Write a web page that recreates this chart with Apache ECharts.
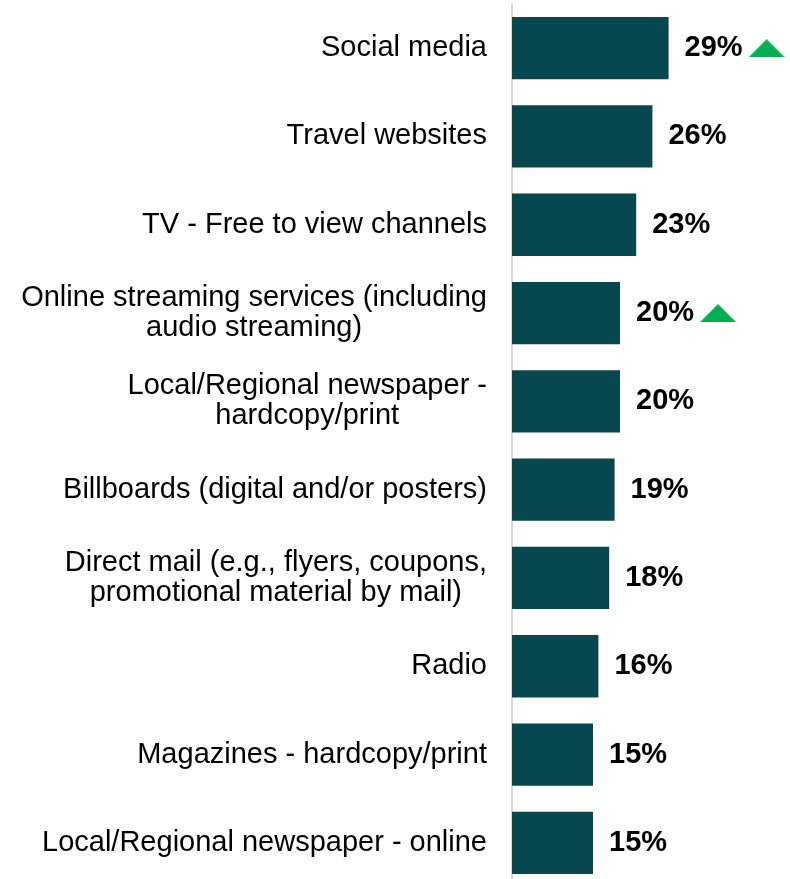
<!DOCTYPE html>
<html>
<head>
<meta charset="utf-8">
<title>Advertising channels</title>
<script src="https://cdn.jsdelivr.net/npm/echarts@6/dist/echarts.min.js"></script>
<style>
  html, body { margin: 0; padding: 0; background: #ffffff; }
  #chart { width: 790px; height: 879px; }
</style>
</head>
<body>
<div id="chart"></div>
<script>
// Channel names (top to bottom) and share of respondents, in percent
const categories = [
  'Social media',
  'Travel websites',
  'TV - Free to view channels',
  'Online streaming services (including\naudio streaming)',
  'Local/Regional newspaper -\nhardcopy/print',
  'Billboards (digital and/or posters)',
  'Direct mail (e.g., flyers, coupons,\npromotional material by mail)',
  'Radio',
  'Magazines - hardcopy/print',
  'Local/Regional newspaper - online'
];
const shares = [29, 26, 23, 20, 20, 19, 18, 16, 15, 15];
// Channels showing a significant increase get a green up-arrow
const risingFlags = [true, false, false, true, false, false, false, false, false, false];

// Green up-arrow drawn once on a canvas, used as a rich-text background
function makeTriangle(w, h, color) {
  const c = document.createElement('canvas');
  c.width = w;
  c.height = h;
  const g = c.getContext('2d');
  g.fillStyle = color;
  g.beginPath();
  g.moveTo(0, h);
  g.lineTo(w / 2, 0);
  g.lineTo(w, h);
  g.closePath();
  g.fill();
  return c;
}
const upArrow = makeTriangle(36, 18, '#00b050');

const FONT = '"Liberation Sans", Arial, Helvetica, sans-serif';

const chart = echarts.init(document.getElementById('chart'), null, { renderer: 'canvas' });

chart.setOption({
  animation: false,
  backgroundColor: '#ffffff',
  grid: {
    left: 512,
    width: 270,
    top: 4,
    height: 883,
    containLabel: false,
    outerBoundsMode: 'none'
  },
  xAxis: {
    type: 'value',
    min: 0,
    max: 50,
    show: false
  },
  yAxis: {
    type: 'category',
    data: categories,
    inverse: true,
    axisLine: { show: true, lineStyle: { color: '#d9d9d9', width: 2 } },
    axisTick: { show: false },
    splitLine: { show: false },
    axisLabel: {
      margin: 25,
      formatter: function (value) {
        return value.split('\n').map(function (line) { return '{c|' + line + '}'; }).join('\n');
      },
      rich: {
        c: {
          fontFamily: FONT,
          fontSize: 29,
          lineHeight: 30,
          color: '#000000',
          align: 'center'
        }
      }
    }
  },
  series: [{
    type: 'bar',
    data: shares,
    barWidth: '70.5%',
    itemStyle: { color: '#07474f' },
    label: {
      show: true,
      position: 'right',
      distance: 16,
      formatter: function (p) {
        const txt = '{v|' + p.value + '%}';
        return risingFlags[p.dataIndex] ? txt + '{gap|}{up|}' : txt;
      },
      rich: {
        v: {
          fontFamily: FONT,
          fontSize: 29,
          fontWeight: 'bold',
          color: '#000000'
        },
        gap: { width: 6, height: 18 },
        up: {
          width: 36,
          height: 18,
          backgroundColor: { image: upArrow }
        }
      }
    }
  }]
});
</script>
</body>
</html>
